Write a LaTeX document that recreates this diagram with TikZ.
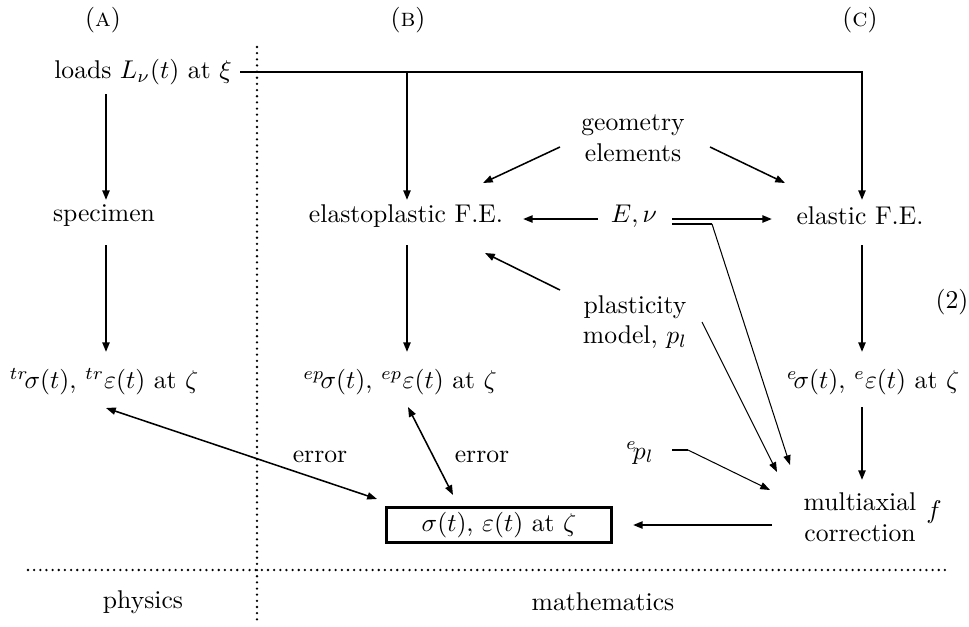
\documentclass[tikz,border=0pt]{standalone}
\usetikzlibrary{arrows.meta}
\begin{document}
\begin{tikzpicture}[x=0.39pt,y=-0.39pt,
  lbl/.style={inner sep=0pt,align=center},
  tip/.style={-{Triangle[length=3.8pt,width=2.8pt]}},
  dtip/.style={{Triangle[length=3.8pt,width=2.8pt]}-{Triangle[length=3.8pt,width=2.8pt]}},
  thickln/.style={line width=0.8pt},
  midln/.style={line width=0.6pt},
  thinln/.style={line width=0.4pt},
  dots/.style={line width=1pt,line cap=round,dash pattern=on 0pt off 2.4pt},
  boxed/.style={draw,line width=1.2pt,inner sep=0pt,minimum width=88pt,minimum height=14pt}]
\useasboundingbox (0,0) rectangle (969,626);
% column labels
\node[lbl] (colA) at (103,20) {(\textsc{a})};
\node[lbl] (colB) at (408,20) {(\textsc{b})};
\node[lbl] (colC) at (860,20) {(\textsc{c})};
% nodes
\node[lbl] (L) at (143,72) {loads $L_{\nu}(t)$ at $\xi$};
\node[lbl] (S) at (104,216) {specimen};
\node[lbl] (P) at (406,216) {elastoplastic F.E.};
\node[lbl] (E) at (634,216) {$E,\nu$};
\node[lbl] (F) at (860,216) {elastic F.E.};
\node[lbl] (G) at (633,138) {geometry\\elements};
\node[lbl] (M) at (635,322) {plasticity\\model, $p_l$};
\node[lbl] (T) at (104,382) {${}^{tr}\!\sigma(t)$, ${}^{tr}\varepsilon(t)$ at $\zeta$};
\node[lbl] (Q) at (400,382) {${}^{ep}\!\sigma(t)$, ${}^{ep}\varepsilon(t)$ at $\zeta$};
\node[lbl] (R) at (873,382) {${}^{e}\!\sigma(t)$, ${}^{e}\varepsilon(t)$ at $\zeta$};
\node[lbl] (eq) at (952,302) {(2)};
\node[lbl] (K) at (640,453) {${}^{e}\!p_l$};
\node[lbl] (X) at (860,517) {multiaxial\\correction};
\node[lbl] (fX) at (934,512) {$f$};
\node[boxed] (B) at (499,525) {$\sigma(t)$, $\varepsilon(t)$ at $\zeta$};
\node[lbl] (err1) at (320,457) {error};
\node[lbl] (err2) at (482,457) {error};
\node[lbl] (phys) at (143,602) {physics};
\node[lbl] (math) at (603,602) {mathematics};
% separators
\coordinate (vt) at (257,47);
\coordinate (vb) at (257,623);
\coordinate (hl) at (28,570);
\coordinate (hr) at (950,570);
\draw[dots] (vt) -- (vb);
\draw[dots] (hl) -- (hr);
% connectors
\draw[thickln,tip] ([shift={(-37,22)}]L.center) -- ([shift={(2,-16)}]S.center);
\draw[thickln,tip] ([shift={(97,0)}]L.center) -| ([shift={(2,-16)}]F.center);
\draw[thickln,tip] ([shift={(1,-144)}]P.center) -- ([shift={(1,-16)}]P.center);
\draw[thickln,tip] ([shift={(2,29)}]S.center) -- ([shift={(2,-30)}]T.center);
\draw[thickln,tip] ([shift={(1,29)}]P.center) -- ([shift={(7,-30)}]Q.center);
\draw[thickln,tip] ([shift={(2,29)}]F.center) -- ([shift={(-11,-30)}]R.center);
\draw[thickln,tip] ([shift={(-11,25)}]R.center) -- ([shift={(2,-37)}]X.center);
\draw[midln,tip] ([shift={(-73,9)}]G.center) -- ([shift={(77,-33)}]P.center);
\draw[midln,tip] ([shift={(77,9)}]G.center) -- ([shift={(-75,-33)}]F.center);
\draw[thickln,tip] ([shift={(-36,3)}]E.center) -- ([shift={(117,3)}]P.center);
\draw[thickln,tip] ([shift={(38,3)}]E.center) -- ([shift={(-88,3)}]F.center);
\draw[thickln] ([shift={(38,8)}]E.center) -- ([shift={(78,8)}]E.center);
\draw[thinln,tip] ([shift={(78,8)}]E.center) -- ([shift={(-70,-52)}]X.center);
\draw[midln,tip] ([shift={(-75,-32)}]M.center) -- ([shift={(79,37)}]P.center);
\draw[thinln,tip] ([shift={(67,0)}]M.center) -- ([shift={(-83,-45)}]X.center);
\draw[thickln] ([shift={(32,-3)}]K.center) -- ([shift={(48,-3)}]K.center);
\draw[thinln,tip] ([shift={(48,-3)}]K.center) -- ([shift={(-90,-27)}]X.center);
\draw[thickln,tip] ([shift={(-88,8)}]X.center) -- ([shift={(134,0)}]B.center);
\draw[midln,dtip] ([shift={(2,26)}]T.center) -- ([shift={(-122,-26)}]B.center);
\draw[midln,dtip] ([shift={(8,25)}]Q.center) -- ([shift={(-46,-30)}]B.center);
\end{tikzpicture}
\end{document}
